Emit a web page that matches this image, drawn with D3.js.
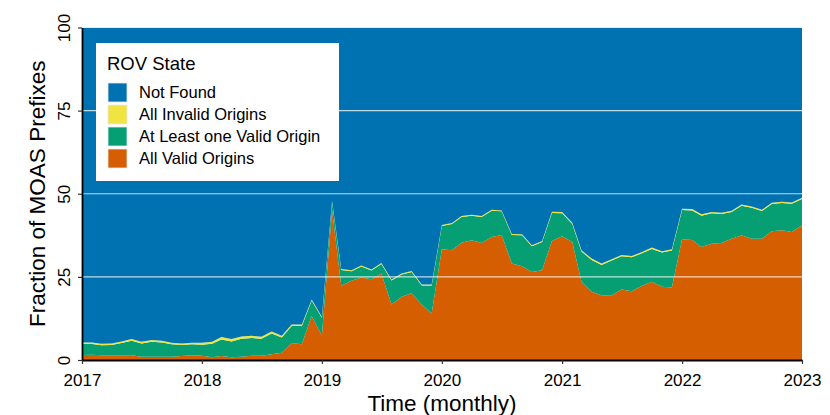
<!DOCTYPE html>
<html>
<head>
<meta charset="utf-8">
<script src="https://cdn.jsdelivr.net/npm/d3@7"></script>
<style>
  body { margin: 0; background: #fff; }
  text { font-family: "Liberation Sans", Arial, sans-serif; fill: #000; }
</style>
</head>
<body>
<div id="chart"></div>
<script>
// monthly samples, Jan 2017 .. Jan 2023
let months = d3.timeMonth.range(new Date(2017, 0, 1), new Date(2023, 0, 2));

// percentages
let allValid = [1.5, 1.6, 1.4, 1.4, 1.4, 1.4, 1.0, 1.0, 1.0, 1.0, 1.2, 1.4,
                1.3, 0.8, 1.2, 0.8, 1.0, 1.3, 1.3, 1.7, 2.2, 5.1, 4.7, 13.2,
                7.3, 45.0, 22.3, 23.8, 24.8, 24.3, 26.0, 16.7, 19.0, 20.1, 16.7, 14.0,
                33.3, 33.0, 35.3, 36.0, 35.2, 37.0, 37.6, 29.0, 28.2, 26.5, 27.0, 35.8,
                37.2, 35.5, 23.5, 20.5, 19.5, 19.5, 21.2, 20.7, 22.3, 23.5, 22.0, 21.8,
                36.3, 36.1, 34.0, 35.0, 35.2, 36.5, 37.5, 36.5, 36.5, 38.7, 39.0, 38.5,
                40.5];
let oneValid = [3.3, 3.2, 3.0, 3.1, 3.7, 4.4, 4.0, 4.5, 4.3, 3.7, 3.3, 3.3,
                3.3, 4.1, 5.0, 4.8, 5.4, 5.3, 5.1, 6.3, 4.6, 5.1, 5.5, 4.7,
                5.4, 2.6, 4.8, 2.9, 3.3, 2.6, 2.9, 7.2, 6.7, 6.4, 5.7, 8.4,
                7.0, 7.9, 7.7, 7.4, 7.8, 7.9, 7.1, 8.6, 9.3, 7.7, 8.5, 8.4,
                6.9, 5.4, 9.1, 9.6, 9.1, 10.4, 10.0, 10.2, 9.8, 9.9, 10.3, 11.1,
                8.8, 8.9, 9.4, 9.1, 8.7, 8.0, 8.9, 9.3, 8.3, 8.2, 8.2, 8.5,
                7.9];
let allInvalid = [0.5, 0.5, 0.5, 0.5, 0.5, 0.5, 0.5, 0.5, 0.5, 0.5, 0.5, 0.5,
                  0.6, 0.6, 0.7, 0.7, 0.7, 0.7, 0.6, 0.6, 0.5, 0.5, 0.5, 0.3,
                  0.3, 0.2, 0.3, 0.3, 0.3, 0.3, 0.3, 0.3, 0.3, 0.3, 0.3, 0.3,
                  0.3, 0.3, 0.3, 0.3, 0.3, 0.3, 0.3, 0.3, 0.3, 0.3, 0.3, 0.4,
                  0.4, 0.4, 0.4, 0.4, 0.4, 0.4, 0.4, 0.4, 0.4, 0.4, 0.4, 0.4,
                  0.4, 0.4, 0.4, 0.4, 0.4, 0.4, 0.4, 0.4, 0.4, 0.4, 0.4, 0.4,
                  0.4];
let notFound = [94.7, 94.7, 95.1, 95.0, 94.4, 93.7, 94.5, 94.0, 94.2, 94.8, 95.0, 94.8,
                94.8, 94.5, 93.1, 93.7, 92.9, 92.7, 93.0, 91.4, 92.7, 89.3, 89.3, 81.8,
                87.0, 52.2, 72.6, 73.0, 71.6, 72.8, 70.8, 75.8, 74.0, 73.2, 77.3, 77.3,
                59.4, 58.8, 56.7, 56.3, 56.7, 54.8, 55.0, 62.1, 62.2, 65.5, 64.2, 55.4,
                55.5, 58.7, 67.0, 69.5, 71.0, 69.7, 68.4, 68.7, 67.5, 66.2, 67.3, 66.7,
                54.5, 54.6, 56.2, 55.5, 55.7, 55.1, 53.2, 53.8, 54.8, 52.7, 52.4, 52.6,
                51.2];

let keys = ["allValid", "oneValid", "allInvalid", "notFound"];
let legendLabels = ["Not Found", "All Invalid Origins", "At Least one Valid Origin", "All Valid Origins"];
let legendKeys = ["notFound", "allInvalid", "oneValid", "allValid"];
let colors = {allValid: "#d55e00", oneValid: "#069e73", allInvalid: "#f0e442", notFound: "#0072b2"};
let yTicks = [0, 25, 50, 75, 100];
let gridTicks = [25, 50, 75, 100];
let xTicks = d3.timeYear.range(new Date(2017, 0, 1), new Date(2023, 0, 2));

let width = 830, height = 415;
let plotLeft = 82, plotRight = 802, plotTop = 27.5, plotBottom = 360;

let table = months.map((m, i) => ({
    date: m,
    allValid: allValid[i],
    oneValid: oneValid[i],
    allInvalid: allInvalid[i],
    notFound: notFound[i]
}));

let xScale = d3.scaleTime()
    .domain([new Date(2017, 0, 1), new Date(2023, 0, 1)])
    .range([plotLeft, plotRight]);
let yScale = d3.scaleLinear()
    .domain([0, 100])
    .range([plotBottom, plotTop]);

let svg = d3.select("#chart").append("svg")
    .attr("width", width)
    .attr("height", height);

let series = d3.stack().keys(keys)(table);

let area = d3.area()
    .x((d) => xScale(d.data.date))
    .y0((d) => yScale(d[0]))
    .y1((d) => yScale(d[1]));

svg.append("g").selectAll("path")
    .data(series)
    .join("path")
    .attr("fill", (s) => colors[s.key])
    .attr("d", area);

// grid lines sit on top of the areas
svg.append("g").selectAll("line")
    .data(gridTicks)
    .join("line")
    .attr("x1", plotLeft).attr("x2", plotRight)
    .attr("y1", (d) => yScale(d)).attr("y2", (d) => yScale(d))
    .attr("stroke", "#ffffff")
    .attr("stroke-opacity", 0.75)
    .attr("stroke-width", 1.2);

let x_axis = d3.axisBottom(xScale)
    .tickValues(xTicks)
    .tickFormat(d3.timeFormat("%Y"))
    .tickSize(4)
    .tickSizeOuter(0)
    .tickPadding(6);
let y_axis = d3.axisLeft(yScale)
    .tickValues(yTicks)
    .tickSize(4)
    .tickSizeOuter(0);

let gx = svg.append("g")
    .attr("transform", `translate(0, ${plotBottom})`)
    .call(x_axis);
gx.selectAll("text").style("font-size", "17px").attr("dy", "0.95em");

let gy = svg.append("g")
    .attr("transform", `translate(${plotLeft}, 0)`)
    .call(y_axis);
gy.selectAll("text")
    .style("font-size", "17px")
    .attr("text-anchor", "middle")
    .attr("x", null).attr("dy", null)
    .attr("transform", "translate(-12, 0) rotate(-90)");

[gx, gy].forEach((g) => {
    g.select(".domain").attr("stroke", "#000").attr("stroke-width", 1.8);
    g.selectAll(".tick line").attr("stroke", "#333").attr("stroke-width", 1.2);
});

svg.append("text")
    .attr("x", (plotLeft + plotRight) / 2)
    .attr("y", 411)
    .attr("text-anchor", "middle")
    .style("font-size", "22.5px")
    .text("Time (monthly)");

svg.append("text")
    .attr("transform", `translate(45, ${(plotTop + plotBottom) / 2}) rotate(-90)`)
    .attr("text-anchor", "middle")
    .style("font-size", "22.5px")
    .text("Fraction of MOAS Prefixes");

// legend
let legend = svg.append("g");
legend.append("rect")
    .attr("x", 96).attr("y", 43)
    .attr("width", 243).attr("height", 138)
    .attr("fill", "#fff");
legend.append("text")
    .attr("x", 107).attr("y", 70)
    .style("font-size", "18.5px")
    .text("ROV State");
let rows = legend.selectAll("g.row")
    .data(legendKeys)
    .join("g")
    .attr("class", "row")
    .attr("transform", (d, i) => `translate(108, ${83 + i * 22})`);
rows.append("rect")
    .attr("width", 19).attr("height", 19)
    .attr("fill", (d) => colors[d])
    .attr("stroke", "#e8e8e8")
    .attr("stroke-width", 0.8);
rows.append("text")
    .attr("x", 31).attr("y", 9.5)
    .attr("dy", "0.36em")
    .style("font-size", "16.5px")
    .text((d, i) => legendLabels[i]);
</script>
</body>
</html>
